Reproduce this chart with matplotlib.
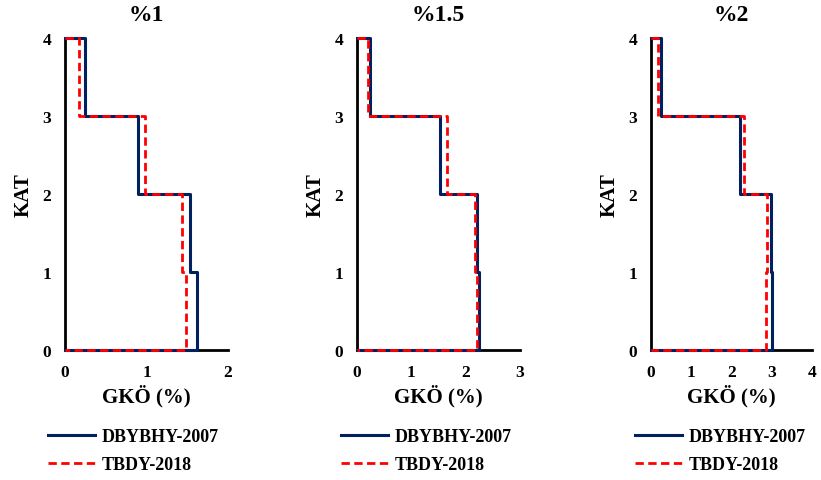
import matplotlib
matplotlib.use('Agg')
from matplotlib import pyplot as plt

# kat (story) levels and drift values
stories = [4, 3, 2, 1]
titles = ['%1', '%1.5', '%2']
x_max = [2, 3, 4]
dbybhy = [[0.245, 0.90, 1.53, 1.62],
          [0.235, 1.52, 2.20, 2.25],
          [0.24, 2.22, 2.975, 3.01]]
tbdy = [[0.175, 0.98, 1.43, 1.48],
        [0.20, 1.66, 2.17, 2.20],
        [0.18, 2.31, 2.87, 2.86]]

plt.rcParams['font.family'] = ['Liberation Serif', 'DejaVu Serif']
plt.rcParams['font.weight'] = 'bold'


def profile(vals):
    xs, ys = [0], [stories[0]]
    for s, v in zip(stories, vals):
        xs += [v, v]
        ys += [s, s - 1]
    xs.append(0)
    ys.append(0)
    return xs, ys


fig = plt.figure(figsize=(8.21, 4.81), dpi=100)
lefts = [65, 357, 651]
widths = [163, 163, 161]
leg_x = [48, 341, 635]

for i in range(3):
    ax = fig.add_axes([lefts[i] / 821, 1 - 351 / 481, widths[i] / 821, 312 / 481])
    bx, by = profile(dbybhy[i])
    rx, ry = profile(tbdy[i])
    ax.plot(bx, by, color='#002060', lw=2.2, label='DBYBHY-2007', clip_on=False, zorder=3)
    ax.plot(rx, ry, color='#ff0000', lw=2.0, ls=(0, (3, 1.6)), label='TBDY-2018',
            clip_on=False, zorder=4)
    ax.set_xlim(0, x_max[i])
    ax.set_ylim(0, 4)
    ax.set_xticks(range(x_max[i] + 1))
    ax.set_yticks(range(5))
    ax.tick_params(length=0, labelsize=12.5)
    ax.tick_params(axis='y', pad=10)
    ax.tick_params(axis='x', pad=10)
    for lab in ax.get_xticklabels() + ax.get_yticklabels():
        lab.set_fontweight('bold')
    for sp in ['top', 'right']:
        ax.spines[sp].set_visible(False)
    for sp in ['left', 'bottom']:
        ax.spines[sp].set_linewidth(2)
        ax.spines[sp].set_color('black')
    ax.set_title(titles[i], fontsize=17, fontweight='bold', pad=13)
    ax.set_xlabel('GKÖ (%)', fontsize=15, fontweight='bold', labelpad=3)
    ax.set_ylabel('KAT', fontsize=15, fontweight='bold', va='center')
    ax.yaxis.set_label_coords(-41 / widths[i], 0.5)
    fig.legend(handles=ax.get_lines(), loc='upper left',
               bbox_to_anchor=((leg_x[i] - 16) / 821, 1 - 413 / 481),
               frameon=False, handlelength=2.6, handletextpad=0.35,
               labelspacing=0.6, prop={'size': 13, 'weight': 'bold'})

fig.savefig('out.png', dpi=100)
